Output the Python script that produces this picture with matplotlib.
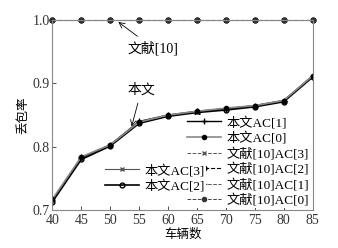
import matplotlib.pyplot as plt
import numpy as np

plt.rcParams['font.family'] = ['Liberation Serif', 'Noto Sans CJK SC']
plt.rcParams['font.size'] = 9

vehicles = np.array([40, 45, 50, 55, 60, 65, 70, 75, 80, 85])
ours_ac1 = [0.716, 0.783, 0.803, 0.840, 0.850, 0.856, 0.860, 0.865, 0.873, 0.912]
ours_ac0 = [0.717, 0.784, 0.803, 0.839, 0.850, 0.856, 0.861, 0.865, 0.873, 0.912]
ours_ac3 = [0.714, 0.781, 0.802, 0.838, 0.849, 0.855, 0.859, 0.864, 0.872, 0.911]
ours_ac2 = [0.713, 0.780, 0.801, 0.837, 0.848, 0.854, 0.858, 0.863, 0.871, 0.910]
ref_all = [1.0] * 10

fig = plt.figure(figsize=(3.38, 2.48), dpi=100)
ax = fig.add_axes([0.155, 0.153, 0.77, 0.766])

h3, = ax.plot(vehicles, ours_ac3, color='#555555', lw=0.8, marker='x', ms=3, label='本文AC[3]')
h2, = ax.plot(vehicles, ours_ac2, color='black', lw=1.2, marker='o', ms=3.5, mfc='none', label='本文AC[2]')
h1, = ax.plot(vehicles, ours_ac1, color='black', lw=1.0, marker='+', ms=4, label='本文AC[1]')
h0, = ax.plot(vehicles, ours_ac0, color='#888888', lw=1.2, marker='o', ms=3, mfc='black', mec='black', label='本文AC[0]')
r3, = ax.plot(vehicles, ref_all, color='#555555', lw=0.7, ls='--', marker='x', ms=3, clip_on=False, label='文献[10]AC[3]')
r2, = ax.plot(vehicles, ref_all, color='black', lw=0.8, ls='--', marker='o', ms=3.5, mfc='none', clip_on=False, label='文献[10]AC[2]')
r1, = ax.plot(vehicles, ref_all, color='#555555', lw=0.7, ls='--', marker='+', ms=4, clip_on=False, label='文献[10]AC[1]')
r0, = ax.plot(vehicles, ref_all, color='#444444', lw=0.7, ls='--', marker='o', ms=3, mfc='#333333', mec='#333333', clip_on=False, label='文献[10]AC[0]')

ax.set_xlim(40, 85)
ax.set_ylim(0.7, 1.0)
ax.set_xticks(range(40, 90, 5))
ax.set_yticks([0.7, 0.8, 0.9, 1.0])
ax.set_yticklabels(['0.7', '0.8', '0.9', '1.0'])
ax.tick_params(direction='in', length=3, width=0.6, colors='#333333', labelsize=10, pad=2)
ax.tick_params(axis='x', pad=3)
for s in ax.spines.values():
    s.set_color('#888888')
    s.set_linewidth(0.8)

ax.set_xlabel('车辆数', fontsize=9, labelpad=1)
ax.set_ylabel('丢包率', fontsize=9, labelpad=2)

ax.annotate('文献[10]', xy=(51.4, 0.997), xytext=(53.0, 0.956), fontsize=10, va='center',
            arrowprops=dict(arrowstyle='->', color='black', lw=0.6, shrinkA=2, shrinkB=0))
ax.annotate('本文', xy=(53.7, 0.832), xytext=(53.0, 0.89), fontsize=10, va='center',
            arrowprops=dict(arrowstyle='->', color='black', lw=0.6, shrinkA=3, shrinkB=0))

leg_kw = dict(fontsize=9.5, handlelength=2.6, labelspacing=0.2, handletextpad=0.4,
              frameon=True, fancybox=False, framealpha=1, facecolor='white',
              edgecolor='none', borderpad=0.1)
leg1 = ax.legend(handles=[h1, h0, r3, r2, r1, r0], loc='lower right',
                 borderaxespad=0.15, **leg_kw)
ax.add_artist(leg1)
ax.legend(handles=[h3, h2], loc='lower left', bbox_to_anchor=(0.17, 0.05), **leg_kw)

fig.savefig('out.png', dpi=100)
